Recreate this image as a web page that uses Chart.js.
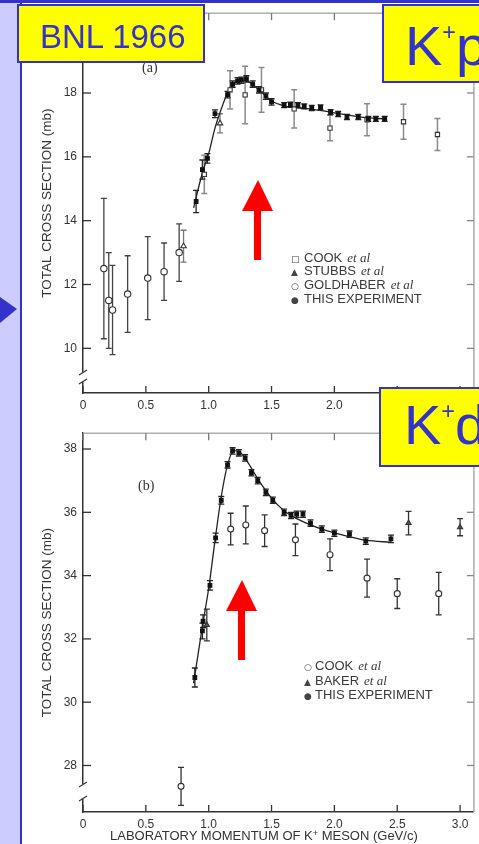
<!DOCTYPE html>
<html>
<head>
<meta charset="utf-8">
<script src="https://cdn.jsdelivr.net/npm/chart.js@4/dist/chart.umd.min.js"></script>
<style>
  html, body { margin: 0; padding: 0; }
  body { width: 479px; height: 844px; overflow: hidden; position: relative; background: #fff;
         font-family: "Liberation Sans", Arial, sans-serif; color: #333; }
  .abs { position: absolute; }
  canvas { position: absolute; }
  .strip { left: 0; top: 0; width: 20px; height: 844px; background: #ccccff; }
  .vline { left: 20px; top: 0; width: 2px; height: 844px; background: #3333cc; }
  .hline { left: 0; top: 0; width: 479px; height: 3px; background: #3333cc; z-index: 5; }
  .tag { background: #ffff00; border: 2px solid #3333cc; box-sizing: border-box; z-index: 6; overflow: hidden; }
  .tag span.t { position: absolute; color: #3333cc; line-height: 1; white-space: nowrap; font-family: "Liberation Sans", Arial, sans-serif; }
  .tag sup { font-size: 42%; vertical-align: 0; position: relative; top: -1.05em; }
  .leg { font-size: 13px; line-height: 1; white-space: nowrap; color: #3a3a3a; z-index: 3; }
  .leg i { font-family: "Liberation Serif", serif; font-style: italic; margin-left: 5px; }
  .mk { display: inline-block; font-family: "DejaVu Sans", sans-serif; font-size: 9px; color: #444; }
  .plab { font-family: "Liberation Serif", serif; font-size: 14px; color: #333; z-index: 3; }
  .xtitle { font-size: 13px; color: #333; white-space: nowrap; line-height: 1; z-index: 3; }
  .xtitle sup { font-size: 70%; vertical-align: 0; position: relative; top: -0.45em; }
</style>
</head>
<body>
<div class="abs strip"></div>
<div class="abs vline"></div>
<div class="abs hline"></div>

<canvas id="kp" width="457" height="420" style="left:22px;top:0;width:457px;height:420px"></canvas>
<canvas id="kd" width="457" height="424" style="left:22px;top:420px;width:457px;height:424px"></canvas>

<div class="abs plab" style="left:142px;top:60px">(a)</div>
<div class="abs plab" style="left:138px;top:478px">(b)</div>

<div class="abs leg" style="left:291px;top:251px"><span class="mk" style="width:13px">□</span>COOK<i>et al</i></div>
<div class="abs leg" style="left:291px;top:264px"><span class="mk" style="width:13px">▲</span>STUBBS<i>et al</i></div>
<div class="abs leg" style="left:291px;top:278px"><span class="mk" style="width:13px">○</span>GOLDHABER<i>et al</i></div>
<div class="abs leg" style="left:291px;top:292px"><span class="mk" style="width:13px">●</span>THIS EXPERIMENT</div>

<div class="abs leg" style="left:304px;top:659px"><span class="mk" style="width:11px">○</span>COOK<i>et al</i></div>
<div class="abs leg" style="left:304px;top:674px"><span class="mk" style="width:11px">▲</span>BAKER<i>et al</i></div>
<div class="abs leg" style="left:304px;top:688px"><span class="mk" style="width:11px">●</span>THIS EXPERIMENT</div>

<div class="abs xtitle" style="left:110px;top:829px">LABORATORY MOMENTUM OF K<sup>+</sup> MESON (GeV/c)</div>

<svg class="abs" width="479" height="844" style="left:0;top:0;z-index:4" xmlns="http://www.w3.org/2000/svg">
  <polygon points="0,297 17,309 0,323" fill="#3333cc"/>
  <rect x="254" y="209" width="7" height="51" fill="#ff0000"/>
  <polygon points="258,180 242,211 273,211" fill="#ff0000"/>
  <rect x="238" y="609" width="7" height="51" fill="#ff0000"/>
  <polygon points="242,580 226,611 257,611" fill="#ff0000"/>
</svg>

<div class="abs tag" style="left:17px;top:4px;width:188px;height:59px">
  <span class="t" style="left:21px;top:14px;font-size:33px">BNL 1966</span>
</div>
<div class="abs tag" style="left:382px;top:4px;width:110px;height:79px">
  <span class="t" style="left:21px;top:12px;font-size:56px">K<sup>+</sup>p</span>
</div>
<div class="abs tag" style="left:379px;top:387px;width:110px;height:80px">
  <span class="t" style="left:23px;top:8px;font-size:56px">K<sup>+</sup>d</span>
</div>

<script>
// ---- shared axis ticks ----
const xTicks = [0, 0.5, 1.0, 1.5, 2.0, 2.5, 3.0];
const yTicksKp = [10, 12, 14, 16, 18];
const yTicksKd = [28, 30, 32, 34, 36, 38];

// ---- (a) K+p total cross section, mb vs lab momentum GeV/c ----
const kpThisP = [0.90, 0.95, 0.99, 1.05, 1.15, 1.19, 1.23, 1.26, 1.30, 1.35, 1.40, 1.455, 1.50, 1.60, 1.65, 1.71, 1.76, 1.82, 1.89, 1.97, 2.03, 2.10, 2.19, 2.27, 2.33, 2.40];
const kpThisS = [14.6, 15.6, 15.95, 17.35, 17.95, 18.28, 18.38, 18.40, 18.44, 18.28, 18.10, 17.90, 17.72, 17.62, 17.63, 17.62, 17.58, 17.53, 17.55, 17.40, 17.34, 17.25, 17.25, 17.19, 17.19, 17.19];
const kpThisE = [0.35, 0.3, 0.15, 0.12, 0.1, 0.1, 0.1, 0.1, 0.1, 0.1, 0.1, 0.1, 0.1, 0.08, 0.08, 0.08, 0.08, 0.08, 0.08, 0.08, 0.08, 0.08, 0.08, 0.08, 0.08, 0.08];

const kpCookP = [0.965, 1.17, 1.29, 1.42, 1.68, 1.965, 2.26, 2.55, 2.82];
const kpCookS = [15.45, 18.10, 17.94, 18.10, 17.50, 16.90, 17.16, 17.10, 16.70];
const kpCookE = [0.6, 0.6, 0.9, 0.7, 0.6, 0.4, 0.5, 0.55, 0.5];

const kpStubbsP = [0.80, 1.09];
const kpStubbsS = [13.2, 17.05];
const kpStubbsE = [0.5, 0.3];

const kpGoldP = [0.166, 0.205, 0.235, 0.355, 0.515, 0.645, 0.765];
const kpGoldS = [12.5, 11.5, 11.2, 11.7, 12.2, 12.4, 13.0];
const kpGoldE = [2.2, 1.5, 1.4, 1.2, 1.3, 0.9, 0.9];

// hand-drawn fit through the K+p measurements
const kpCurveP = [0.88, 0.95, 1.00, 1.05, 1.10, 1.15, 1.20, 1.26, 1.32, 1.40, 1.50, 1.60, 1.80, 2.00, 2.20, 2.42];
const kpCurveS = [14.40, 15.50, 16.10, 16.90, 17.50, 18.00, 18.30, 18.40, 18.35, 18.10, 17.75, 17.60, 17.50, 17.38, 17.25, 17.18];

// ---- (b) K+d total cross section ----
const kdThisP = [0.89, 0.95, 0.955, 1.01, 1.055, 1.10, 1.15, 1.19, 1.24, 1.29, 1.34, 1.39, 1.455, 1.51, 1.60, 1.655, 1.70, 1.75, 1.81, 1.90, 2.00, 2.12, 2.25, 2.45];
const kdThisS = [30.78, 32.25, 32.56, 33.69, 35.19, 36.38, 37.50, 37.94, 37.88, 37.72, 37.25, 37.00, 36.63, 36.38, 36.00, 35.90, 35.94, 35.94, 35.66, 35.47, 35.34, 35.31, 35.09, 35.16];
const kdThisE = [0.3, 0.25, 0.2, 0.15, 0.15, 0.12, 0.1, 0.1, 0.1, 0.1, 0.1, 0.1, 0.1, 0.1, 0.1, 0.1, 0.1, 0.1, 0.1, 0.1, 0.1, 0.1, 0.1, 0.12];

const kdCookP = [0.78, 1.175, 1.295, 1.445, 1.69, 1.965, 2.26, 2.50, 2.83];
const kdCookS = [27.34, 35.47, 35.60, 35.42, 35.13, 34.66, 33.92, 33.43, 33.43];
const kdCookE = [0.6, 0.5, 0.6, 0.5, 0.5, 0.5, 0.6, 0.47, 0.67];

const kdBakerP = [0.985, 2.59, 3.00];
const kdBakerS = [32.44, 35.66, 35.53];
const kdBakerE = [0.5, 0.37, 0.27];

// hand-drawn fit through the K+d measurements
const kdCurveP = [0.88, 0.95, 1.00, 1.05, 1.10, 1.15, 1.20, 1.25, 1.30, 1.40, 1.50, 1.60, 1.70, 1.80, 1.90, 2.00, 2.10, 2.25, 2.45];
const kdCurveS = [30.60, 32.40, 33.60, 35.10, 36.50, 37.50, 37.95, 37.90, 37.65, 37.00, 36.45, 36.05, 35.80, 35.62, 35.47, 35.35, 35.25, 35.12, 35.05];

const pts = (xs, ys) => xs.map((x, i) => ({ x: x, y: ys[i] }));

const INK = '#2a2a2a';

// vertical error bars drawn under the markers
const errorBars = {
  id: 'errorBars',
  beforeDatasetsDraw(chart) {
    const { ctx, scales: { x, y } } = chart;
    ctx.save();
    chart.data.datasets.forEach((ds, i) => {
      if (!ds.errors || !chart.isDatasetVisible(i)) return;
      ctx.strokeStyle = ds.errorColor || INK;
      ctx.lineWidth = ds.errorWidth || 1.3;
      ds.data.forEach((p, j) => {
        const e = ds.errors[j];
        if (!e) return;
        const px = x.getPixelForValue(p.x);
        const top = y.getPixelForValue(p.y + e);
        const bot = y.getPixelForValue(p.y - e);
        ctx.beginPath();
        ctx.moveTo(px, top); ctx.lineTo(px, bot);
        ctx.moveTo(px - 3, top); ctx.lineTo(px + 3, top);
        ctx.moveTo(px - 3, bot); ctx.lineTo(px + 3, bot);
        ctx.stroke();
      });
    });
    ctx.restore();
  }
};

// closed frame with inward tick marks and a broken-axis sign on the left axis
const frame = {
  id: 'frame',
  afterDraw(chart, args, opts) {
    const { ctx, chartArea: a, scales: { x, y } } = chart;
    ctx.save();
    ctx.lineWidth = 1.6;
    ctx.strokeStyle = '#b0b0b0';
    ctx.beginPath();
    ctx.moveTo(a.left, a.top); ctx.lineTo(a.right, a.top); ctx.lineTo(a.right, a.bottom);
    ctx.stroke();
    ctx.lineWidth = 1.3;
    x.ticks.forEach(t => {
      const px = x.getPixelForValue(t.value);
      ctx.strokeStyle = '#333';
      ctx.beginPath(); ctx.moveTo(px, a.bottom); ctx.lineTo(px, a.bottom - 7); ctx.stroke();
      ctx.strokeStyle = '#777';
      ctx.beginPath(); ctx.moveTo(px, a.top); ctx.lineTo(px, a.top + 7); ctx.stroke();
    });
    y.ticks.forEach(t => {
      const py = y.getPixelForValue(t.value);
      ctx.strokeStyle = '#333';
      ctx.beginPath(); ctx.moveTo(a.left, py); ctx.lineTo(a.left + 8, py); ctx.stroke();
      ctx.strokeStyle = '#888';
      ctx.beginPath(); ctx.moveTo(a.right, py); ctx.lineTo(a.right - 7, py); ctx.stroke();
    });
    if (opts && opts.breakAt) {
      const [b0, b1] = opts.breakAt;
      ctx.fillStyle = '#fff';
      ctx.fillRect(a.left - 2, a.bottom - b1, 4, b1 - b0);
      ctx.strokeStyle = '#333';
      ctx.lineWidth = 1.2;
      ctx.beginPath();
      ctx.moveTo(a.left - 4, a.bottom - b1 + 3); ctx.lineTo(a.left + 4, a.bottom - b1 - 2);
      ctx.moveTo(a.left - 4, a.bottom - b0 + 2); ctx.lineTo(a.left + 4, a.bottom - b0 - 3);
      ctx.stroke();
    }
    ctx.restore();
  }
};

const tickFont = { family: '"Liberation Sans", Arial, sans-serif', size: 12 };

function axes(yMin, yMax, yTicks, xHeight) {
  return {
    x: {
      type: 'linear', min: 0, max: 3.11,
      afterBuildTicks: s => { s.ticks = xTicks.map(v => ({ value: v })); },
      afterFit: s => { s.height = xHeight; },
      grid: { display: false, drawTicks: false },
      border: { display: true, color: '#333', width: 1.5 },
      ticks: { padding: 5, color: '#333', font: tickFont, maxRotation: 0,
               callback: v => v === 0 ? '0' : v.toFixed(1) }
    },
    y: {
      type: 'linear', min: yMin, max: yMax,
      afterBuildTicks: s => { s.ticks = yTicks.map(v => ({ value: v })); },
      afterFit: s => { s.width = 61; },
      grid: { display: false, drawTicks: false },
      border: { display: true, color: '#333', width: 1.5 },
      ticks: { padding: 6, color: '#333', font: tickFont },
      title: { display: true, text: 'TOTAL CROSS SECTION (mb)', color: '#333',
               font: { family: '"Liberation Sans", Arial, sans-serif', size: 13.5 },
               padding: { top: 17, bottom: 0 } }
    }
  };
}

function series(label, data, errors, opts) {
  return Object.assign({
    label: label, data: data, errors: errors, showLine: false,
    pointRadius: 3, pointBorderWidth: 1.1, pointBorderColor: '#333',
    pointBackgroundColor: '#fff', order: 1
  }, opts);
}

function curve(data) {
  return {
    label: 'fit', data: data, showLine: true, pointRadius: 0,
    borderColor: '#222', borderWidth: 1.3, cubicInterpolationMode: 'monotone', order: 10
  };
}

const common = {
  responsive: false, animation: false, devicePixelRatio: 1,
  plugins: { legend: { display: false }, tooltip: { enabled: false } }
};

new Chart(document.getElementById('kp'), {
  type: 'scatter',
  data: {
    datasets: [
      curve(pts(kpCurveP, kpCurveS)),
      series('GOLDHABER et al', pts(kpGoldP, kpGoldS), kpGoldE,
             { pointStyle: 'circle', pointRadius: 3.2, errorColor: '#444' }),
      series('COOK et al', pts(kpCookP, kpCookS), kpCookE,
             { pointStyle: 'rect', pointRadius: 3, errorColor: '#8a8a8a', errorWidth: 1.5 }),
      series('STUBBS et al', pts(kpStubbsP, kpStubbsS), kpStubbsE,
             { pointStyle: 'triangle', pointRadius: 3.2, errorColor: '#777' }),
      series('THIS EXPERIMENT', pts(kpThisP, kpThisS), kpThisE,
             { pointStyle: 'rect', pointRadius: 2.6, pointBackgroundColor: '#111', pointBorderColor: '#111', errorColor: '#222', order: 0 })
    ]
  },
  options: Object.assign({}, common, {
    layout: { padding: { top: 11, right: 2, left: 0, bottom: 0 } },
    scales: axes(8.6, 20.5, yTicksKp, 27),
    plugins: Object.assign({}, common.plugins, { frame: { breakAt: [11, 21] } })
  }),
  plugins: [errorBars, frame]
});

new Chart(document.getElementById('kd'), {
  type: 'scatter',
  data: {
    datasets: [
      curve(pts(kdCurveP, kdCurveS)),
      series('COOK et al', pts(kdCookP, kdCookS), kdCookE,
             { pointStyle: 'circle', pointRadius: 3, errorColor: '#333' }),
      series('BAKER et al', pts(kdBakerP, kdBakerS), kdBakerE,
             { pointStyle: 'triangle', pointRadius: 3, pointBackgroundColor: '#555', errorColor: '#333' }),
      series('THIS EXPERIMENT', pts(kdThisP, kdThisS), kdThisE,
             { pointStyle: 'rect', pointRadius: 2.6, pointBackgroundColor: '#111', pointBorderColor: '#111', errorColor: '#222', order: 0 })
    ]
  },
  options: Object.assign({}, common, {
    layout: { padding: { top: 10, right: 2, left: 0, bottom: 0 } },
    scales: axes(26.53, 38.5, yTicksKd, 32),
    plugins: Object.assign({}, common.plugins, { frame: { breakAt: [13, 28] } })
  }),
  plugins: [errorBars, frame]
});
</script>
</body>
</html>
